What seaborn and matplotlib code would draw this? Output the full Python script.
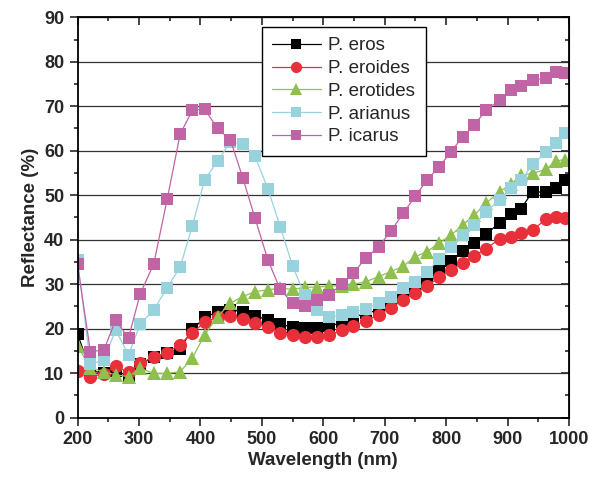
import pandas as pd
import seaborn as sns
import matplotlib.pyplot as plt
from matplotlib.ticker import MultipleLocator

# marker positions (nm)
wavelength = [200, 221, 243, 262, 283, 302, 324, 346, 367, 387, 407, 428, 449, 469,
              489, 510, 530, 550, 570, 590, 610, 630, 649, 669, 690, 710, 730, 750,
              769, 789, 808, 827, 846, 865, 887, 906, 922, 941, 963, 979, 993]

eros = [18.8, 10.5, 10.0, 10.5, 9.3, 12.0, 13.5, 14.5, 15.5, 19.8, 22.5, 23.8, 24.2, 23.8,
        22.8, 22.0, 21.0, 20.3, 20.1, 20.2, 20.5, 21.4, 22.6, 23.4, 24.2, 25.5, 27.0, 28.8,
        30.8, 33.0, 35.2, 37.4, 39.3, 41.2, 43.8, 45.8, 47.0, 50.8, 50.6, 51.5, 53.5]
eroides = [10.5, 9.2, 9.8, 11.5, 10.2, 12.2, 13.6, 14.6, 16.4, 19.1, 21.4, 22.5, 22.8, 22.1,
           21.2, 20.3, 19.1, 18.6, 18.2, 18.2, 18.5, 19.6, 20.6, 21.7, 23.1, 24.7, 26.4, 28.0,
           29.6, 31.5, 33.2, 34.8, 36.3, 38.0, 40.1, 40.7, 41.4, 42.2, 44.6, 45.2, 44.8]
erotides = [16.1, 11.1, 10.3, 9.6, 9.2, 11.1, 9.9, 9.9, 10.3, 13.4, 18.6, 22.7, 25.7, 27.2,
            28.3, 28.7, 29.1, 28.8, 29.3, 29.3, 29.6, 29.6, 30.0, 30.5, 31.7, 32.8, 34.0, 36.2,
            37.3, 39.3, 41.0, 43.3, 45.5, 48.2, 50.8, 52.5, 54.5, 54.9, 55.8, 57.7, 58.0]
arianus = [35.4, 12.0, 12.9, 19.7, 14.1, 21.0, 24.2, 29.2, 33.8, 43.1, 53.5, 57.6, 62.0, 61.5,
           58.7, 51.4, 42.9, 34.1, 27.5, 24.2, 22.5, 23.0, 23.8, 24.3, 25.7, 27.0, 29.1, 30.5,
           32.8, 35.6, 38.3, 41.0, 43.3, 46.2, 49.0, 51.6, 53.3, 57.0, 59.6, 61.7, 63.9]
icarus = [34.5, 14.8, 15.2, 21.9, 17.9, 27.8, 34.5, 49.1, 63.7, 69.1, 69.3, 65.0, 62.4, 53.9,
          44.8, 35.4, 28.8, 25.7, 25.1, 26.4, 27.6, 30.0, 32.5, 35.8, 38.4, 41.9, 45.9, 49.8,
          53.4, 56.4, 59.8, 63.1, 65.8, 69.1, 71.4, 73.6, 74.5, 75.9, 76.3, 77.8, 77.5]

names = ["P. eros", "P. eroides", "P. erotides", "P. arianus", "P. icarus"]
series = [eros, eroides, erotides, arianus, icarus]
colors = ["#000000", "#e8303a", "#8fc04f", "#98d2dd", "#c064a6"]
markers = ["s", "o", "^", "s", "s"]
msizes = [8.5, 9.5, 9.5, 8.5, 8.5]

sns.set_style("ticks")
plt.rcParams['font.family'] = ['Liberation Sans', 'DejaVu Sans']

fig = plt.figure(figsize=(5.89, 4.87), dpi=100)
ax = fig.add_axes([0.1316, 0.1427, 0.8344, 0.8218])

for name, vals, c, m, ms in zip(names, series, colors, markers, msizes):
    df = pd.DataFrame({"Wavelength": wavelength, "Reflectance": vals})
    sns.lineplot(data=df, x="Wavelength", y="Reflectance", ax=ax, color=c, marker=m,
                 markersize=ms, markeredgewidth=0, linewidth=0.9, label=name)

ax.set_xlim(200, 1000)
ax.set_ylim(0, 90)
ax.xaxis.set_major_locator(MultipleLocator(100))
ax.xaxis.set_minor_locator(MultipleLocator(50))
ax.yaxis.set_major_locator(MultipleLocator(10))
ax.yaxis.set_minor_locator(MultipleLocator(5))
ax.grid(axis='y', which='major', color='#333333', linewidth=0.9)
ax.set_axisbelow(True)
ax.tick_params(which='major', direction='out', length=6, width=1.2, labelsize=13)
ax.tick_params(which='minor', direction='out', length=3, width=1.2)
for lab in ax.get_xticklabels() + ax.get_yticklabels():
    lab.set_fontweight('bold')
for sp in ax.spines.values():
    sp.set_linewidth(1.3)
    sp.set_color('black')

top = ax.secondary_xaxis('top')
top.xaxis.set_major_locator(MultipleLocator(100))
top.xaxis.set_minor_locator(MultipleLocator(50))
top.tick_params(which='major', direction='in', length=6, width=1.2, labeltop=False)
top.tick_params(which='minor', direction='in', length=3, width=1.2)
right = ax.secondary_yaxis('right')
right.yaxis.set_major_locator(MultipleLocator(10))
right.yaxis.set_minor_locator(MultipleLocator(5))
right.tick_params(which='major', direction='in', length=6, width=1.2, labelright=False)
right.tick_params(which='minor', direction='in', length=3, width=1.2)

ax.set_xlabel("Wavelength (nm)", fontsize=13.5, fontweight='bold', labelpad=3)
ax.set_ylabel("Reflectance (%)", fontsize=13.5, fontweight='bold')

leg = ax.legend(loc='upper left', bbox_to_anchor=(0.375, 0.976), borderaxespad=0,
                fontsize=13.5, frameon=True, fancybox=False, edgecolor='black',
                framealpha=1, handlelength=2.6, borderpad=0.55, labelspacing=0.3,
                handletextpad=0.4, markerscale=0.85)
leg.get_frame().set_linewidth(1.0)

fig.savefig("out.png", dpi=100)
